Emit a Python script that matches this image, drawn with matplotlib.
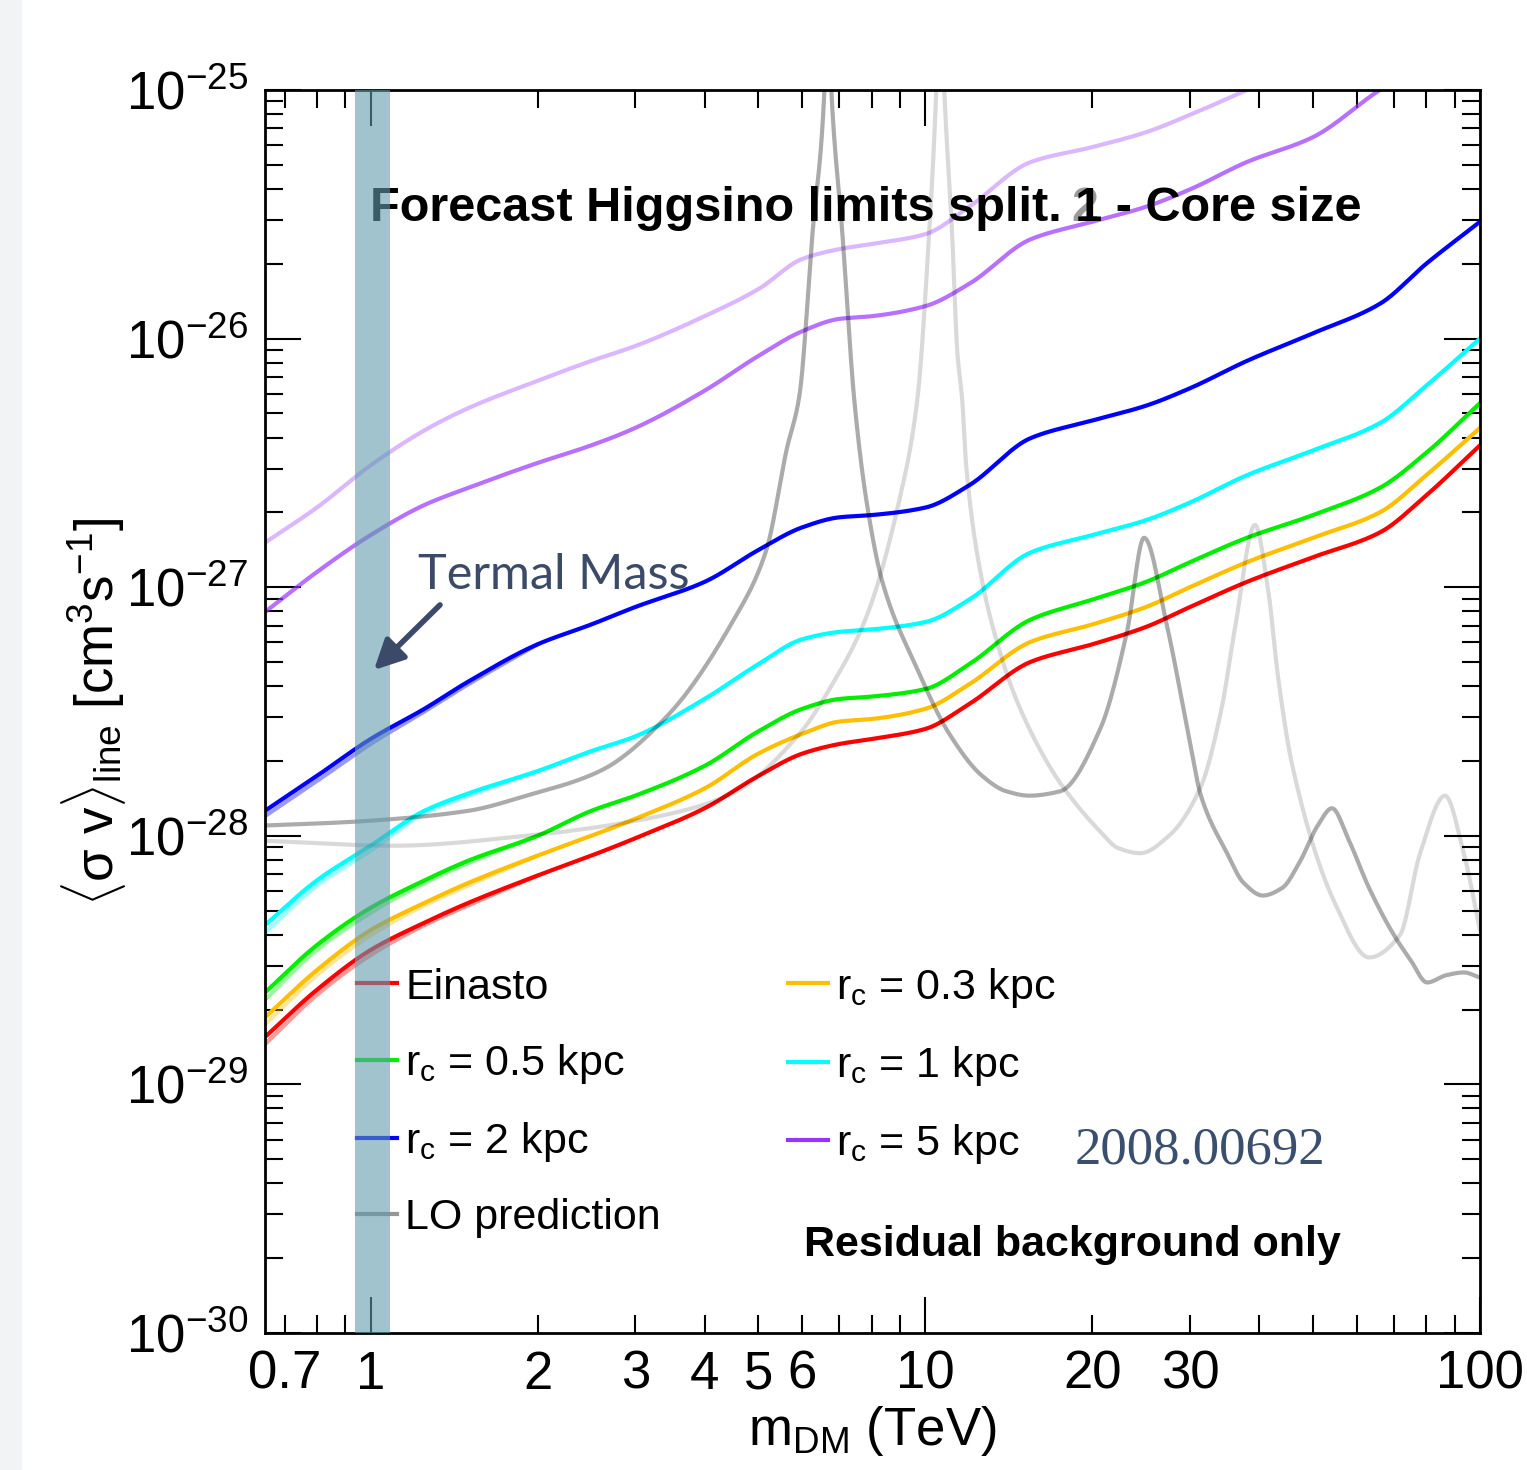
import math
import numpy as np
import matplotlib
matplotlib.use("Agg")
import matplotlib.pyplot as plt
from matplotlib.lines import Line2D
from matplotlib.patches import Rectangle
from matplotlib.ticker import FixedLocator, FixedFormatter, LogLocator, FuncFormatter

plt.rcParams["font.family"] = ["Liberation Sans", "DejaVu Sans"]
plt.rcParams["mathtext.fontset"] = "custom"
plt.rcParams["mathtext.rm"] = "Liberation Sans"
plt.rcParams["mathtext.it"] = "Liberation Sans:italic"
plt.rcParams["mathtext.bf"] = "Liberation Sans:bold"

# DM mass grid (TeV) for the forecast limits
mass = [0.645, 0.8, 1.0, 1.25, 1.5, 2.0, 2.5, 3.0, 4.0, 5.0, 6.0, 7.0, 8.0, 10.0,
        12.0, 15.5, 20.0, 25.0, 30.0, 38.0, 50.0, 66.0, 80.0, 100.0]

# <sigma v>_line limits, cm^3 s^-1
sv_einasto = [1.55e-29, 2.40e-29, 3.47e-29, 4.47e-29, 5.37e-29, 6.92e-29, 8.32e-29, 9.77e-29,
              1.29e-28, 1.74e-28, 2.14e-28, 2.34e-28, 2.45e-28, 2.69e-28, 3.39e-28, 5.01e-28,
              5.89e-28, 6.92e-28, 8.32e-28, 1.05e-27, 1.32e-27, 1.66e-27, 2.34e-27, 3.72e-27]
sv_rc03 = [1.86e-29, 2.88e-29, 4.17e-29, 5.37e-29, 6.46e-29, 8.32e-29, 1.00e-28, 1.17e-28,
           1.55e-28, 2.14e-28, 2.57e-28, 2.88e-28, 2.95e-28, 3.24e-28, 4.07e-28, 6.03e-28,
           7.08e-28, 8.32e-28, 1.00e-27, 1.26e-27, 1.58e-27, 2.00e-27, 2.82e-27, 4.37e-27]
sv_rc05 = [2.34e-29, 3.63e-29, 5.13e-29, 6.61e-29, 7.94e-29, 1.00e-28, 1.26e-28, 1.45e-28,
           1.91e-28, 2.63e-28, 3.24e-28, 3.55e-28, 3.63e-28, 3.89e-28, 4.90e-28, 7.41e-28,
           8.91e-28, 1.05e-27, 1.26e-27, 1.58e-27, 1.95e-27, 2.51e-27, 3.47e-27, 5.50e-27]
sv_rc1 = [4.37e-29, 6.61e-29, 9.12e-29, 1.26e-28, 1.48e-28, 1.82e-28, 2.19e-28, 2.51e-28,
          3.55e-28, 4.90e-28, 6.17e-28, 6.61e-28, 6.76e-28, 7.24e-28, 8.91e-28, 1.38e-27,
          1.62e-27, 1.86e-27, 2.19e-27, 2.82e-27, 3.55e-27, 4.57e-27, 6.46e-27, 1.00e-26]
sv_rc2 = [1.26e-28, 1.74e-28, 2.45e-28, 3.24e-28, 4.17e-28, 5.89e-28, 7.08e-28, 8.32e-28,
          1.05e-27, 1.41e-27, 1.74e-27, 1.91e-27, 1.95e-27, 2.09e-27, 2.57e-27, 3.98e-27,
          4.68e-27, 5.37e-27, 6.31e-27, 8.13e-27, 1.05e-26, 1.38e-26, 2.00e-26, 2.95e-26]
sv_rc5 = [7.94e-28, 1.15e-27, 1.62e-27, 2.14e-27, 2.51e-27, 3.16e-27, 3.72e-27, 4.37e-27,
          6.17e-27, 8.51e-27, 1.07e-26, 1.20e-26, 1.23e-26, 1.35e-26, 1.66e-26, 2.51e-26,
          2.95e-26, 3.39e-26, 3.98e-26, 5.13e-26, 6.46e-26, 1.00e-25, 1.29e-25, 1.74e-25]
sv_rc5_b = [1.51e-27, 2.09e-27, 3.09e-27, 4.27e-27, 5.25e-27, 6.76e-27, 8.13e-27, 9.33e-27,
            1.23e-26, 1.58e-26, 2.09e-26, 2.29e-26, 2.40e-26, 2.63e-26, 3.39e-26, 5.13e-26,
            5.89e-26, 6.76e-26, 7.94e-26, 1.00e-25, 1.32e-25, 1.74e-25, 2.09e-25, 2.63e-25]

# second splitting, only differs at low mass
mass_low = [0.645, 0.8, 1.0, 1.25, 1.5, 2.0]
sv_einasto_b = [1.45e-29, 2.29e-29, 3.31e-29, 4.37e-29, 5.25e-29, 6.92e-29]
sv_rc03_b = [1.74e-29, 2.75e-29, 3.98e-29, 5.25e-29, 6.31e-29, 8.32e-29]
sv_rc05_b = [2.19e-29, 3.47e-29, 4.90e-29, 6.46e-29, 7.76e-29, 1.00e-28]
sv_rc1_b = [4.07e-29, 6.31e-29, 8.71e-29, 1.23e-28, 1.45e-28, 1.82e-28]
sv_rc2_b = [1.20e-28, 1.66e-28, 2.34e-28, 3.16e-28, 4.07e-28, 5.89e-28]

# LO predictions (two splittings)
mass_lo1 = [0.645, 0.8, 1.0, 1.5, 1.91, 2.59, 3.42, 4.49, 5.17, 5.62, 5.93, 6.26, 6.58, 6.66,
            6.77, 7.09, 7.45, 7.83, 8.37, 9.63, 11.05, 12.67, 14.0, 15.4, 17.5, 20.67, 23.1,
            24.8, 27.3, 29.8, 31.4, 35.0, 37.5, 40.6, 44.0, 47.2, 51.0, 54.1, 58.0, 63.1,
            70.0, 75.0, 80.3, 87.0, 93.5, 100.0]
sv_lo1 = [1.10e-28, 1.12e-28, 1.15e-28, 1.26e-28, 1.45e-28, 1.82e-28, 3.02e-28, 7.24e-28,
          1.41e-27, 3.55e-27, 5.89e-27, 2.63e-26, 1.0e-25, 3.0e-25, 1.0e-25, 2.63e-26,
          5.62e-27, 2.24e-27, 1.05e-27, 4.79e-28, 2.57e-28, 1.74e-28, 1.51e-28, 1.45e-28,
          1.51e-28, 2.69e-28, 6.61e-28, 1.58e-27, 6.92e-28, 2.57e-28, 1.45e-28, 8.51e-29,
          6.46e-29, 5.75e-29, 6.17e-29, 7.76e-29, 1.10e-28, 1.29e-28, 9.61e-29, 6.17e-29,
          3.98e-29, 3.16e-29, 2.57e-29, 2.75e-29, 2.82e-29, 2.69e-29]
mass_lo2 = [0.645, 1.1, 1.91, 3.32, 4.49, 5.93, 6.80, 7.83, 8.98, 9.67, 10.16, 10.47, 10.64,
            10.82, 11.18, 11.42, 11.66, 11.86, 12.67, 13.59, 14.58, 16.73, 17.95, 20.59, 22.3,
            24.4, 27.5, 31.4, 34.2, 36.2, 39.3, 41.5, 43.3, 45.9, 55.0, 63.1, 71.7, 78.0,
            86.5, 93.5, 100.0]
sv_lo2 = [9.55e-29, 9.12e-29, 1.00e-28, 1.20e-28, 1.48e-28, 2.57e-28, 4.07e-28, 7.59e-28,
          2.24e-27, 5.62e-27, 2.63e-26, 1.0e-25, 3.0e-25, 1.0e-25, 2.63e-26, 8.91e-27,
          5.62e-27, 3.02e-27, 1.05e-27, 5.62e-28, 3.55e-28, 1.91e-28, 1.51e-28, 1.05e-28,
          8.91e-29, 8.51e-29, 1.00e-28, 1.58e-28, 3.24e-28, 6.92e-28, 1.78e-27, 9.77e-28,
          4.27e-28, 1.91e-28, 5.25e-29, 3.24e-29, 3.98e-29, 8.51e-29, 1.45e-28, 8.51e-29,
          4.17e-29]

labels = ["Einasto", "r$_{\\rm c}$ = 0.3 kpc", "r$_{\\rm c}$ = 0.5 kpc", "r$_{\\rm c}$ = 1 kpc",
          "r$_{\\rm c}$ = 2 kpc", "r$_{\\rm c}$ = 5 kpc", "LO prediction"]
colors = ["#ff0000", "#ffbf00", "#00ee00", "#00ffff", "#0000ff", "#9933ff", "#969696"]

thermal_band = (0.936, 1.082)


def smooth(x, y, n=40):
    # monotone cubic (pchip) through the read points, in log-log space
    lx, ly = np.log10(x), np.log10(y)
    h = np.diff(lx)
    dl = np.diff(ly) / h
    d = np.zeros_like(lx)
    d[0], d[-1] = dl[0], dl[-1]
    for k in range(1, len(lx) - 1):
        if dl[k - 1] * dl[k] > 0:
            w1, w2 = 2 * h[k] + h[k - 1], h[k] + 2 * h[k - 1]
            d[k] = (w1 + w2) / (w1 / dl[k - 1] + w2 / dl[k])
    xs, ys = [], []
    for k in range(len(h)):
        t = np.linspace(0, 1, n, endpoint=False)
        h00 = 2 * t**3 - 3 * t**2 + 1
        h10 = t**3 - 2 * t**2 + t
        h01 = -2 * t**3 + 3 * t**2
        h11 = t**3 - t**2
        xs.append(lx[k] + t * h[k])
        ys.append(h00 * ly[k] + h10 * h[k] * d[k] + h01 * ly[k + 1] + h11 * h[k] * d[k + 1])
    xs.append([lx[-1]])
    ys.append([ly[-1]])
    return 10 ** np.concatenate(xs), 10 ** np.concatenate(ys)


fig = plt.figure(figsize=(15.27, 14.70), dpi=100)
fig.patches.append(Rectangle((0, 0), 22 / 1527, 1, transform=fig.transFigure,
                             facecolor="#f2f3f5", edgecolor="none", zorder=0))
ax = fig.add_axes([0.1735, 0.0932, 0.7957, 0.8456])

lw = 3.0
low_series = [sv_einasto_b, sv_rc03_b, sv_rc05_b, sv_rc1_b, sv_rc2_b]
for s, c in zip(low_series, colors):
    ax.plot(*smooth(mass_low, s), color=c, lw=lw, alpha=0.4, zorder=2)
ax.plot(*smooth(mass, sv_rc5_b), color=colors[5], lw=lw, alpha=0.35, zorder=2)

main_series = [sv_einasto, sv_rc03, sv_rc05, sv_rc1, sv_rc2]
for s, c in zip(main_series, colors):
    ax.plot(*smooth(mass, s), color=c, lw=lw, zorder=2.2)
ax.plot(*smooth(mass, sv_rc5), color=colors[5], lw=lw, alpha=0.7, zorder=2.2)

ax.plot(*smooth(mass_lo1, sv_lo1), color="black", lw=lw, alpha=0.33, zorder=3)
ax.plot(*smooth(mass_lo2, sv_lo2), color="black", lw=lw, alpha=0.15, zorder=3)

ax.axvspan(*thermal_band, color=(97 / 255, 155 / 255, 173 / 255), alpha=0.6, lw=0, zorder=10)

ax.set_xscale("log")
ax.set_yscale("log")
ax.set_xlim(0.645, 100)
ax.set_ylim(1e-30, 1e-25)

ax.xaxis.set_major_locator(FixedLocator([1, 10, 100]))
ax.xaxis.set_major_formatter(FixedFormatter(["1", "10", "100"]))
minor_x = [0.7, 0.8, 0.9, 2, 3, 4, 5, 6, 7, 8, 9, 20, 30, 40, 50, 60, 70, 80, 90]
minor_lab = ["0.7", "", "", "2", "3", "4", "5", "6", "", "", "", "20", "30",
             "", "", "", "", "", ""]
ax.xaxis.set_minor_locator(FixedLocator(minor_x))
ax.xaxis.set_minor_formatter(FixedFormatter(minor_lab))
ax.yaxis.set_major_locator(LogLocator(base=10, numticks=10))
ax.yaxis.set_major_formatter(FuncFormatter(lambda v, p: "$10^{%d}$" % round(math.log10(v))))
ax.yaxis.set_minor_locator(LogLocator(base=10, subs=range(2, 10), numticks=20))
ax.yaxis.set_minor_formatter(FuncFormatter(lambda v, p: ""))

ax.tick_params(which="both", direction="in", top=True, right=True, labelsize=38, width=1.5)
ax.tick_params(which="major", length=26)
ax.tick_params(which="minor", length=13)
ax.tick_params(axis="x", which="both", pad=12)
ax.tick_params(axis="y", which="both", pad=12)
for sp in ax.spines.values():
    sp.set_linewidth(2)

ax.set_xlabel("m$_{\\rm DM}$ (TeV)", fontsize=38)
ax.xaxis.set_label_coords(0.5, -0.057)
ax.set_ylabel("$\\langle$σ v$\\rangle_{\\rm line}$ [cm$^{3}$s$^{-1}$]", fontsize=38)
ax.yaxis.set_label_coords(-0.113, 0.5)

handles = [Line2D([], [], color=c, lw=lw) for c in colors]
order = [0, 2, 4, 6, 1, 3, 5]
ax.legend([handles[i] for i in order], [labels[i] for i in order], ncol=2,
          loc="upper left", bbox_to_anchor=(0.0757, 0.2956), frameon=False, fontsize=31,
          handlelength=0.93, handletextpad=0.19, labelspacing=0.79, columnspacing=2.95,
          borderpad=0, borderaxespad=0)

ax.text(0.664, 0.905, "2", transform=ax.transAxes, fontsize=35, fontweight="bold",
        color="#9a9a9a", ha="left", va="center", zorder=3.9)
ax.text(0.4947, 0.905, "Forecast Higgsino limits split. 1 - Core size", transform=ax.transAxes,
        fontsize=35, fontweight="bold", ha="center", va="center", zorder=4)
ax.text(0.6642, 0.0708, "Residual background only", transform=ax.transAxes,
        fontsize=31, fontweight="bold", ha="center", va="center")
ax.text(0.6667, 0.1472, "2008.00692", transform=ax.transAxes, fontsize=38,
        family="Liberation Serif", color="#3a4e6e", ha="left", va="center")
ax.text(0.126, 0.610, "Termal Mass", transform=ax.transAxes, fontsize=35,
        family="Lato", color="#3b4a68", ha="left", va="center", zorder=11)
ax.annotate("", xy=(0.0881, 0.5318), xytext=(0.1457, 0.5873), xycoords="axes fraction",
            arrowprops=dict(arrowstyle="-|>", color="#3b4a68", lw=4, mutation_scale=45),
            zorder=11)

fig.savefig("out.png", dpi=100)
